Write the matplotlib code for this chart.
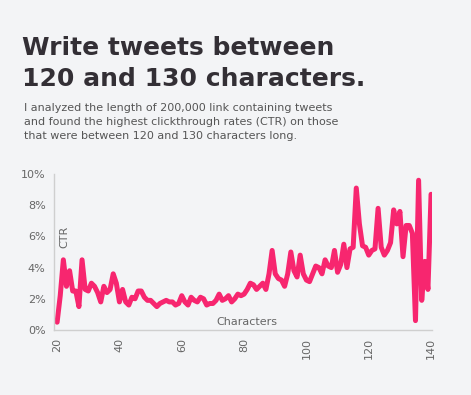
import matplotlib
matplotlib.use("Agg")
import matplotlib.pyplot as plt
import numpy as np

characters = list(range(20, 141))
ctr = [0.5, 2.2, 4.5, 2.8, 3.8, 2.5, 2.5, 1.5, 4.5, 2.6,
       2.5, 3.0, 2.8, 2.4, 1.8, 2.8, 2.4, 2.6, 3.6, 3.0,
       1.8, 2.6, 1.8, 1.6, 2.1, 2.0, 2.5, 2.5, 2.1, 1.9,
       1.9, 1.7, 1.5, 1.7, 1.8, 1.9, 1.8, 1.8, 1.6, 1.7,
       2.2, 1.8, 1.6, 2.1, 1.9, 1.8, 2.1, 2.0, 1.6, 1.7,
       1.7, 1.9, 2.3, 1.9, 2.0, 2.2, 1.8, 2.0, 2.3, 2.2,
       2.3, 2.6, 3.0, 2.9, 2.6, 2.8, 3.0, 2.6, 3.6, 5.1,
       3.6, 3.3, 3.2, 2.8, 3.6, 5.0, 3.8, 3.4, 4.8, 3.6,
       3.2, 3.1, 3.6, 4.1, 4.0, 3.6, 4.5, 4.1, 4.0, 5.1,
       3.7, 4.2, 5.5, 4.0, 5.2, 5.3, 9.1, 6.8, 5.4, 5.3,
       4.8, 5.1, 5.2, 7.8, 5.3, 4.8, 5.1, 5.6, 7.7, 6.8,
       7.6, 4.7, 6.7, 6.7, 6.2, 0.6, 9.6, 1.9, 4.4, 2.6,
       8.7]
x_ticks = [20, 40, 60, 80, 100, 120, 140]
y_ticks = [0, 2, 4, 6, 8, 10]
y_tick_labels = ["0%", "2%", "4%", "6%", "8%", "10%"]

title = "Write tweets between\n120 and 130 characters."
subtitle = ("I analyzed the length of 200,000 link containing tweets\n"
            "and found the highest clickthrough rates (CTR) on those\n"
            "that were between 120 and 130 characters long.")

W, H = 471, 395
bg = "#f3f4f6"
fig = plt.figure(figsize=(W / 100, H / 100), dpi=100, facecolor=bg)

fig.text(22 / W, 1 - 36 / H, title, fontsize=18.0, fontweight="bold",
         color="#332f35", family="DejaVu Sans", va="top", ha="left",
         linespacing=1.38)
fig.text(24 / W, 1 - 103 / H, subtitle, fontsize=8.0, color="#555555",
         family="DejaVu Sans", va="top", ha="left", linespacing=1.5)

ax = fig.add_axes([54 / W, 1 - 330 / H, (432 - 54) / W, (330 - 174) / H])
ax.set_facecolor(bg)
ax.plot(characters, ctr, color="#f7266f", lw=3.6, solid_joinstyle="round",
        solid_capstyle="round")
ax.set_xlim(19, 140.3)
ax.set_ylim(0, 10)
ax.set_xticks(x_ticks)
ax.set_xticklabels([str(t) for t in x_ticks], rotation=90, color="#666666",
                   fontsize=8)
ax.set_yticks(y_ticks)
ax.set_yticklabels(y_tick_labels, color="#666666", fontsize=8)
ax.tick_params(length=0, pad=6)
for s in ["top", "right"]:
    ax.spines[s].set_visible(False)
for s in ["left", "bottom"]:
    ax.spines[s].set_color("#cfcfcf")
    ax.spines[s].set_linewidth(1)

ax.text(22.3, 6.0, "CTR", rotation=90, ha="center", va="center",
        color="#666666", fontsize=8)
ax.text(80.8, 0.5, "Characters", ha="center", va="center",
        color="#666666", fontsize=8)

fig.savefig("out.png", dpi=100, facecolor=bg)
